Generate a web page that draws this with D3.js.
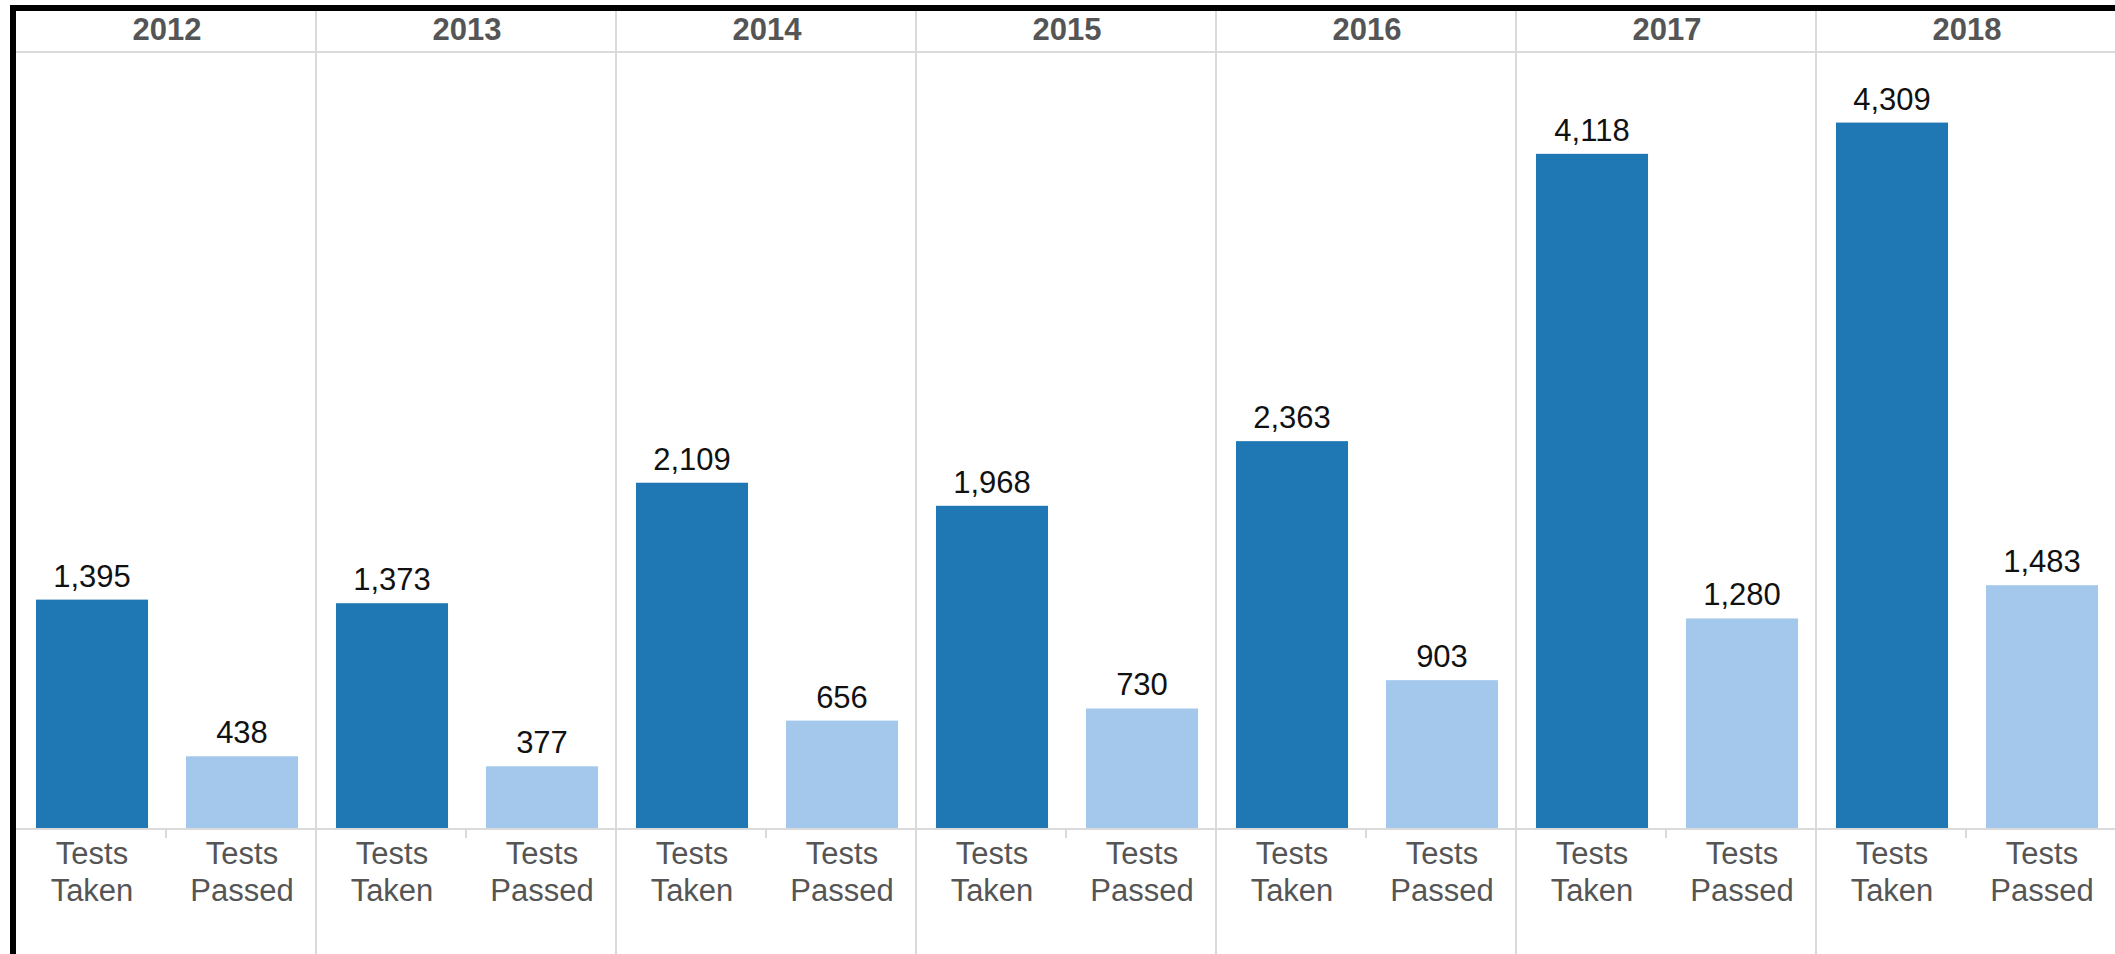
<!DOCTYPE html>
<html>
<head>
<meta charset="utf-8">
<script src="https://cdn.jsdelivr.net/npm/d3@7"></script>
<style>
    html, body { margin: 0; padding: 0; background: #fff; }
    svg { display: block; font-family: 'Liberation Sans', Arial, sans-serif; }
</style>
</head>
<body>
<div id="chart"></div>
<script>
const years = ['2012', '2013', '2014', '2015', '2016', '2017', '2018']
const measures = ['Tests Taken', 'Tests Passed']
const testsTaken = [1395, 1373, 2109, 1968, 2363, 4118, 4309]
const testsPassed = [438, 377, 656, 730, 903, 1280, 1483]

const width = 2115,
    height = 954
const frameLeft = 16,
    frameTop = 11,
    headerBottom = 52,
    baseline = 828
const colors = {'Tests Taken': '#1f77b4', 'Tests Passed': '#a3c8eb'}

const rows = []
years.forEach((y, i) => {
    rows.push({year: y, measure: 'Tests Taken', value: testsTaken[i]})
    rows.push({year: y, measure: 'Tests Passed', value: testsPassed[i]})
})

const svg = d3.select('#chart').append('svg')
    .attr('width', width)
    .attr('height', height)

const x = d3.scaleBand()
    .domain(years)
    .range([frameLeft + 1, frameLeft + 1 + 300 * years.length])

const xInner = d3.scaleBand()
    .domain(measures)
    .range([0, x.bandwidth()])
    .paddingInner(0.253)
    .paddingOuter(0.1265)

const y = d3.scaleLinear()
    .domain([0, 4740])
    .range([baseline, headerBottom])

const grid = '#dadada'

// header line and baseline
svg.append('line')
    .attr('x1', frameLeft).attr('x2', width)
    .attr('y1', headerBottom).attr('y2', headerBottom)
    .attr('stroke', grid).attr('stroke-width', 2)
svg.append('line')
    .attr('x1', frameLeft).attr('x2', width)
    .attr('y1', baseline + 1).attr('y2', baseline + 1)
    .attr('stroke', grid).attr('stroke-width', 2)

// panel dividers
svg.selectAll('line.divider')
    .data(years.slice(1))
    .enter().append('line')
    .attr('class', 'divider')
    .attr('x1', d => x(d) - 1).attr('x2', d => x(d) - 1)
    .attr('y1', frameTop).attr('y2', height)
    .attr('stroke', grid).attr('stroke-width', 2)

// small ticks between the two bars of each year
svg.selectAll('line.tick')
    .data(years)
    .enter().append('line')
    .attr('class', 'tick')
    .attr('x1', d => x(d) + x.bandwidth() / 2 - 1)
    .attr('x2', d => x(d) + x.bandwidth() / 2 - 1)
    .attr('y1', baseline).attr('y2', baseline + 10)
    .attr('stroke', grid).attr('stroke-width', 2)

// year headers
svg.selectAll('text.year')
    .data(years)
    .enter().append('text')
    .attr('class', 'year')
    .attr('x', d => x(d) + x.bandwidth() / 2)
    .attr('y', 40)
    .attr('text-anchor', 'middle')
    .style('font-size', '31px')
    .style('font-weight', 'bold')
    .style('fill', '#555')
    .text(d => d)

// bars
svg.selectAll('rect.bar')
    .data(rows)
    .enter().append('rect')
    .attr('class', 'bar')
    .attr('x', d => x(d.year) + xInner(d.measure))
    .attr('width', xInner.bandwidth())
    .attr('y', d => y(d.value))
    .attr('height', d => baseline - y(d.value))
    .style('fill', d => colors[d.measure])

// value labels
svg.selectAll('text.value')
    .data(rows)
    .enter().append('text')
    .attr('class', 'value')
    .attr('x', d => x(d.year) + xInner(d.measure) + xInner.bandwidth() / 2)
    .attr('y', d => y(d.value) - 13)
    .attr('text-anchor', 'middle')
    .style('font-size', '31px')
    .style('fill', '#111')
    .text(d => d3.format(',')(d.value))

// measure labels under the bars
const labels = svg.selectAll('text.measure')
    .data(rows)
    .enter().append('text')
    .attr('class', 'measure')
    .attr('text-anchor', 'middle')
    .style('font-size', '31px')
    .style('fill', '#555')
labels.each(function(d) {
    const cx = x(d.year) + xInner(d.measure) + xInner.bandwidth() / 2
    const parts = d.measure.split(' ')
    d3.select(this).selectAll('tspan')
        .data(parts)
        .enter().append('tspan')
        .attr('x', cx)
        .attr('y', (p, i) => 864 + i * 37)
        .text(p => p)
})

// black frame on the top and left edges
svg.append('line')
    .attr('x1', 10).attr('x2', width)
    .attr('y1', 8).attr('y2', 8)
    .attr('stroke', '#000').attr('stroke-width', 6)
svg.append('line')
    .attr('x1', 13).attr('x2', 13)
    .attr('y1', 5).attr('y2', height)
    .attr('stroke', '#000').attr('stroke-width', 6)
</script>
</body>
</html>
